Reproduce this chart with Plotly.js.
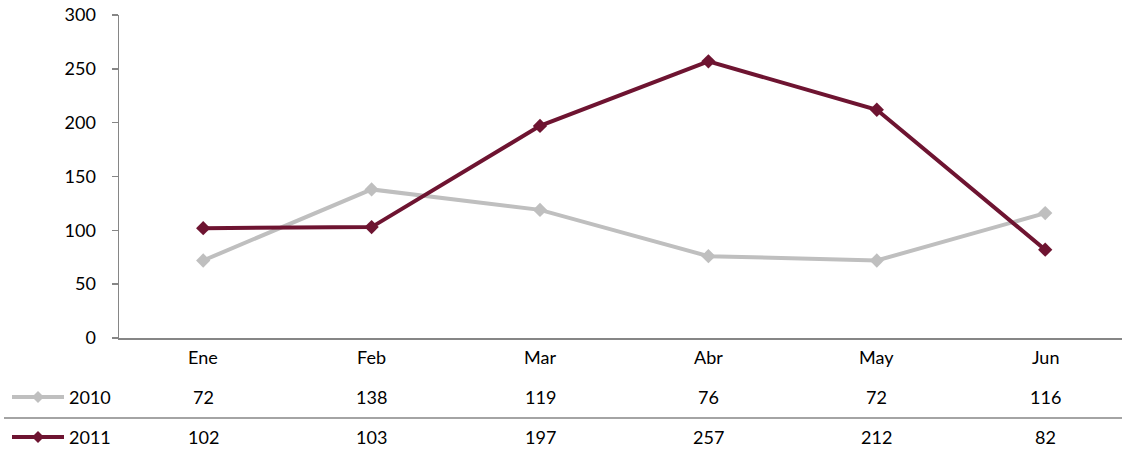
<!DOCTYPE html>
<html>
<head>
<meta charset="utf-8">
<script src="https://cdn.plot.ly/plotly-3.0.1.min.js"></script>
<style>html,body{margin:0;padding:0;background:#fff;}#chart{width:1122px;height:451px;}</style>
</head>
<body>
<div id="chart"></div>
<script>
const categories = ["Ene", "Feb", "Mar", "Abr", "May", "Jun"];
const seriesNames = ["2010", "2011"];
const values2010 = [72, 138, 119, 76, 72, 116];
const values2011 = [102, 103, 197, 257, 212, 82];
const yTicks = [0, 50, 100, 150, 200, 250, 300];

const colors = ["#BFBFBF", "#6E1431"];
const W = 1122, H = 451, ML = 119, MT = 15, MB = 113, MR = 0;
const plotW = W - ML - MR, plotH = H - MT - MB;
const px2x = p => (p - ML) / plotW;
const py2y = p => (H - MB - p) / plotH;
const FONT = "Lato, 'Open Sans', sans-serif";
const FS = 18;

const seriesValues = [values2010, values2011];
const traces = seriesValues.map((vals, i) => ({
  type: "scatter", mode: "lines+markers",
  x: categories, y: vals, name: seriesNames[i],
  line: {color: colors[i], width: 4},
  marker: {symbol: "diamond", size: 11, color: colors[i]},
  cliponaxis: false, showlegend: false
}));

const annotations = [];
const shapes = [];
categories.forEach((c, j) => {
  annotations.push({x: c, xref: "x", y: py2y(357), yref: "paper", text: c, showarrow: false,
    xanchor: "center", yanchor: "middle", font: {family: FONT, size: FS, color: "#000"}});
});
const rowY = [397, 437];
seriesValues.forEach((vals, i) => {
  vals.forEach((v, j) => {
    annotations.push({x: categories[j], xref: "x", y: py2y(rowY[i]), yref: "paper", text: String(v),
      showarrow: false, xanchor: "center", yanchor: "middle", font: {family: FONT, size: FS, color: "#000"}});
  });
  annotations.push({x: px2x(67), xref: "paper", y: py2y(rowY[i]), yref: "paper", text: seriesNames[i],
    showarrow: false, xanchor: "left", yanchor: "middle", font: {family: FONT, size: FS, color: "#000"}});
  shapes.push({type: "line", xref: "paper", yref: "paper", x0: px2x(12), x1: px2x(64),
    y0: py2y(rowY[i]), y1: py2y(rowY[i]), line: {color: colors[i], width: 4}});
  shapes.push({type: "path", xref: "paper", yref: "paper", xsizemode: "pixel", ysizemode: "pixel",
    xanchor: px2x(38), yanchor: py2y(rowY[i]), path: "M0,6 L6,0 L0,-6 L-6,0 Z",
    fillcolor: colors[i], line: {width: 0}});
});
shapes.push({type: "line", xref: "paper", yref: "paper", x0: px2x(4), x1: 1,
  y0: py2y(418), y1: py2y(418), line: {color: "#868686", width: 1.5}});

const layout = {
  width: W, height: H,
  margin: {l: ML, r: MR, t: MT, b: MB},
  paper_bgcolor: "#fff", plot_bgcolor: "#fff",
  xaxis: {type: "category", range: [-0.5, -0.5 + plotW / 168.4], showticklabels: false,
    showgrid: false, zeroline: false, showline: true, linecolor: "#868686", linewidth: 1.5, ticks: ""},
  yaxis: {range: [0, 300], tickvals: yTicks, ticktext: yTicks.map(String), showgrid: false, zeroline: false,
    showline: true, linecolor: "#868686", linewidth: 1.5, ticks: "outside", ticklen: 6, tickcolor: "#868686",
    tickwidth: 1.5, ticklabelstandoff: 12, tickfont: {family: FONT, size: FS, color: "#000"}},
  annotations: annotations, shapes: shapes, showlegend: false
};
Plotly.newPlot("chart", traces, layout, {displayModeBar: false, staticPlot: true});
</script>
</body>
</html>
